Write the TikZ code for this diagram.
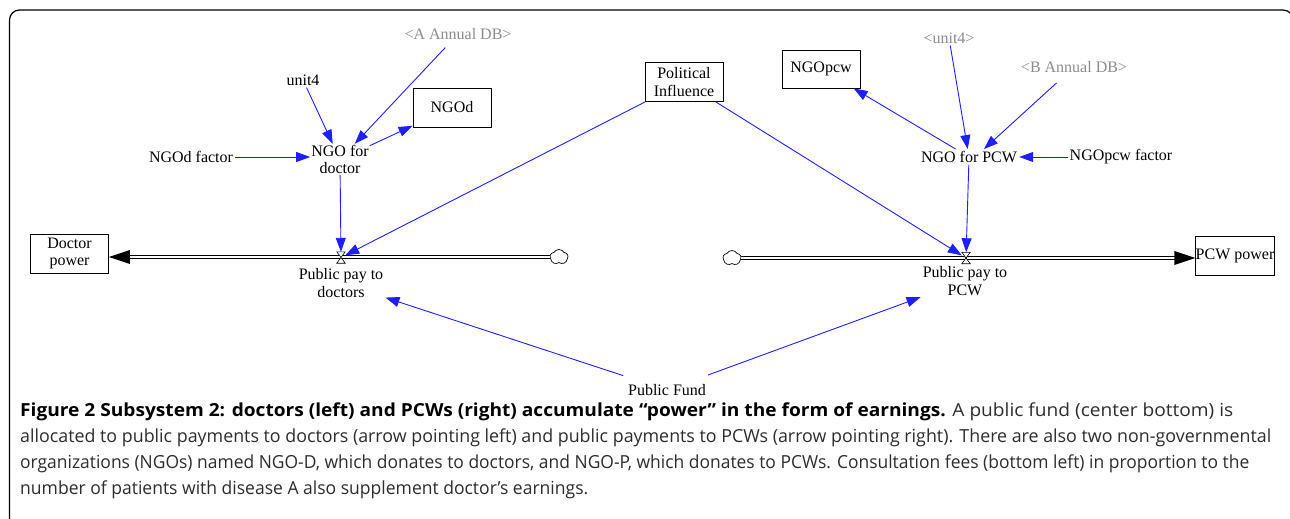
\documentclass[tikz,border=0pt]{standalone}
\usepackage{fontspec}
\setmainfont{Liberation Serif}
\newfontfamily\capfont{Open Sans}
\usepackage{graphicx}
\usetikzlibrary{arrows.meta,shapes.symbols}
\definecolor{shade}{RGB}{140,140,140}
\definecolor{linkblue}{RGB}{30,30,255}
\definecolor{captext}{RGB}{45,45,45}
\begin{document}
\begin{tikzpicture}[x=1pt,y=-1pt,
  lbl/.style={font=\fontsize{16}{17.5}\selectfont, align=center, inner sep=2pt},
  shadowvar/.style={lbl, text=shade},
  box/.style={draw, line width=0.8pt, lbl, minimum width=78pt, minimum height=39pt, inner sep=0pt},
  link/.style={draw=linkblue, line width=0.9pt, -{Triangle[length=14pt,width=10pt]}},
  pipe/.style={draw, double, double distance=2.2pt, line width=0.8pt},
  valve/.style={inner sep=0pt, minimum width=8pt, minimum height=11pt},
  puff/.style={cloud, draw, cloud puffs=5, cloud puff arc=120, aspect=1.2, minimum width=18pt, minimum height=15pt, inner sep=0pt, line width=0.7pt, fill=white},
  captxt/.style={anchor=west, inner sep=0pt, text=captext, font=\capfont\fontsize{18}{20}\selectfont},
]
\useasboundingbox (0,0) rectangle (1290,519);
% frame
\draw[line width=1.2pt, rounded corners=10pt] (9.5,540) -- (9.5,10) -- (1293,10) -- (1293,540);

% stocks
\node[box] (dp) at (69.5,253.5) {Doctor\\power};
\node[box] (pcw) at (1235,256) {PCW power};
\node[box] (ngod) at (452,107.5) {NGOd};
\node[box] (pi) at (684,82) {Political\\Influence};
\node[box, minimum height=38pt] (ngopcw) at (821,69) {NGOpcw};

% variables
\node[shadowvar] (aadb) at (458,34) {<A Annual DB>};
\node[lbl] (unit4) at (303,80) {unit4};
\node[lbl, inner sep=1pt] (ngofd) at (340,159.5) {NGO for\\doctor};
\node[lbl] (ngodf) at (191,157) {NGOd factor};
\node[lbl] (ppd) at (341,283) {Public pay to\\doctors};
\node[shadowvar] (unit4s) at (949,38) {<unit4>};
\node[shadowvar] (badb) at (1074,67) {<B Annual DB>};
\node[lbl] (ngop) at (969,157) {NGO for PCW};
\node[lbl] (ngopf) at (1121,157) {NGOpcw factor};
\node[lbl] (ppp) at (965,281) {Public pay to\\PCW};
\node[lbl] (pf) at (667,390) {Public Fund};

% clouds and valves
\node[puff] (cloudL) at (559,257) {};
\node[puff] (cloudR) at (732,258) {};
\node[valve] (vL) at (341,257.5) {};
\node[valve] (vR) at (966,258) {};

% pipes
\draw[pipe] (cloudL.west) -- ([xshift=18pt]cloudL.west -| dp.east);
\fill (cloudL.west -| dp.east) -- ++(21,-7) -- ++(0,14) -- cycle;
\draw[pipe] (cloudR.east) -- ([xshift=-18pt]cloudR.east -| pcw.west);
\fill (cloudR.east -| pcw.west) -- ++(-21,-7) -- ++(0,14) -- cycle;
\draw[fill=white, line width=0.6pt] (vL.north west) -- (vL.north east) -- (vL.south west) -- (vL.south east) -- cycle;
\draw[fill=white, line width=0.6pt] (vR.north west) -- (vR.north east) -- (vR.south west) -- (vR.south east) -- cycle;

% links left
\draw[link] (ngodf.east) -- (ngofd.west |- ngodf.east);
\draw[link] (unit4) -- (ngofd);
\draw[link, shorten <=8pt] (aadb) -- (ngofd);
\draw[link] (ngofd) -- (ngod);
\draw[link] (ngofd) -- (vL);
\draw[link] (pi) -- (vL);
% links right
\draw[link] (pi) -- (vR);
\draw[link] (unit4s) -- (ngop);
\draw[link, shorten <=12pt] (badb) -- ([xshift=15pt]ngop.north);
\draw[link] (ngop) -- (ngopcw);
\draw[link] (ngopf.west) -- (ngop.east |- ngopf.west);
\draw[link] (ngop) -- (vR);
% public fund
\draw[link, shorten <=21pt] (pf) -- (ppd);
\draw[link, shorten <=21pt] (pf) -- (ppp);

% caption
\node[captxt] (c1) at (20,412) {\resizebox{1213pt}{\height}{\textbf{\color{black}Figure 2 Subsystem 2: doctors (left) and PCWs (right) accumulate “power” in the form of earnings.} A public fund (center bottom) is}};
\node[captxt] (c2) at (20,438) {\resizebox{1251pt}{\height}{allocated to public payments to doctors (arrow pointing left) and public payments to PCWs (arrow pointing right). There are also two non-governmental}};
\node[captxt] (c3) at (20,464) {\resizebox{1229pt}{\height}{organizations (NGOs) named NGO-D, which donates to doctors, and NGO-P, which donates to PCWs. Consultation fees (bottom left) in proportion to the}};
\node[captxt] (c4) at (20,490) {\resizebox{568pt}{\height}{number of patients with disease A also supplement doctor’s earnings.}};
\end{tikzpicture}
\end{document}
